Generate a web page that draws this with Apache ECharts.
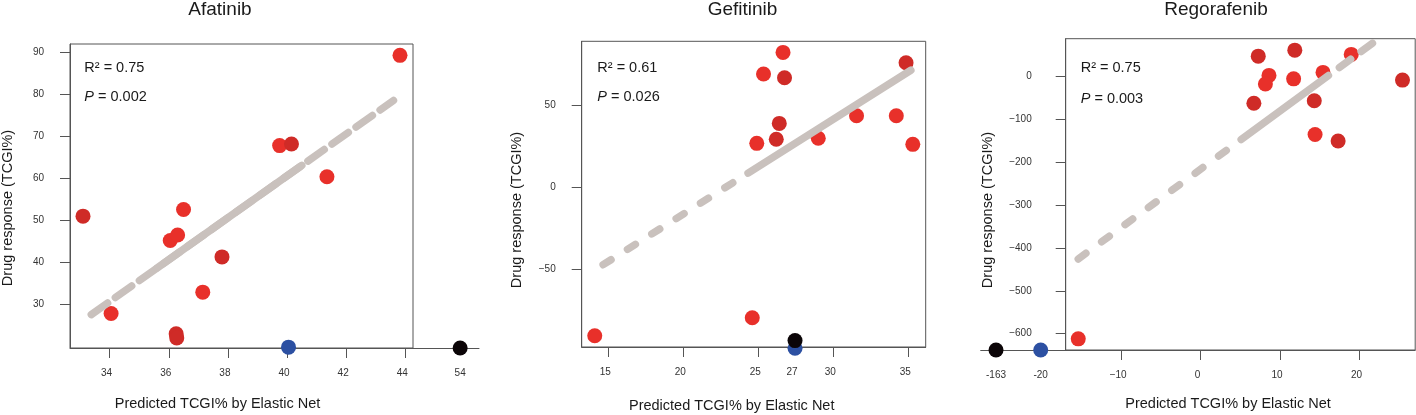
<!DOCTYPE html>
<html><head><meta charset="utf-8">
<script src="https://cdn.jsdelivr.net/npm/echarts@6/dist/echarts.min.js"></script>
<style>html,body{margin:0;padding:0;background:#fff}#c{width:1416px;height:415px}</style>
</head><body><div id="c"></div>
<script>
const FONT = '"Liberation Sans", Arial, Helvetica, sans-serif';

// ---------- Afatinib ----------
const afatinibRed  = [[43.82,89.3],[39.75,67.8],[41.35,60.4],[36.5,52.6],[36.05,45.2],[36.3,46.5],[37.15,32.9],[34.05,27.8]];
const afatinibDark = [[40.15,68.2],[33.1,51.0],[37.8,41.3],[36.25,23.0],[36.27,22.0]];
const afatinibBlue  = [[40.05,19.8]];
const afatinibBlack = [[54,19.6]];
const afatinibFitDashed = [[33.38,27.55],[43.6,78.55]];
const afatinibFitSolid  = [[35.6,38.63],[40.5,63.08]];
const afatinibXTicks = [34,36,38,40,42,44];
const afatinibYTicks = [30,40,50,60,70,80,90];
const afatinibBreakTicks = [54];
const afatinibStats = ['0.75','0.002'];

// ---------- Gefitinib ----------
const gefitinibRed  = [[26.65,82.6],[25.35,69.4],[31.55,43.9],[34.2,43.9],[35.3,26.4],[24.9,27.0],[29.0,30.1],[24.6,-79.6],[14.1,-90.6]];
const gefitinibDark = [[26.75,67.1],[34.85,76.3],[26.4,39.2],[26.2,29.5]];
const gefitinibBlue  = [[27.45,-98.3]];
const gefitinibBlack = [[27.45,-93.6]];
const gefitinibFitDashed = [[14.66,-47.18],[24.32,8.8]];
const gefitinibFitSolid  = [[24.32,8.8],[35.17,71.68]];
const gefitinibXTicks = [15,20,25,30,35];
const gefitinibXLabels = [15,20,25,27.45,30,35];
const gefitinibYTicks = [-50,0,50];
const gefitinibStats = ['0.61','0.026'];

// ---------- Regorafenib ----------
const regorafenibRed  = [[18.95,52],[8.6,3],[8.15,-17],[11.7,-5],[15.4,10],[14.4,-135],[-15.4,-612]];
const regorafenibDark = [[7.25,48],[11.85,62],[25.4,-8],[6.7,-62],[14.3,-56],[17.3,-150]];
const regorafenibBlue  = [[-20,-638]];
const regorafenibBlack = [[-163,-638]];
const regorafenibFitDashedA = [[-15.4,-425.4],[5.1,-146.6]];
const regorafenibFitSolid   = [[5.1,-146.6],[16.08,2.7]];
const regorafenibFitDashedB = [[17.46,21.5],[21.72,79.4]];
const regorafenibXTicks = [-10,0,10,20];
const regorafenibYTicks = [-600,-500,-400,-300,-200,-100,0];
const regorafenibBreakTicks = [-163,-20];
const regorafenibStats = ['0.75','0.003'];

const RED = '#e8302a', DARK = '#cf2b27', BLUE = '#2c50a2', BLACK = '#0b0507', LINE = '#c9c1bd';
const AX = '#555';
const minus = v => String(v).replace('-', '\u2212');

function xAxisCfg(grid, min, max, ticks, labels, fmt, show) {
  return {
    type: 'value', gridIndex: grid, min, max, scale: true,
    splitLine: {show: false},
    axisLine: {show: true, onZero: false, lineStyle: {color: AX, width: 1}},
    axisTick: {show: true, length: 10, customValues: ticks, lineStyle: {color: AX}},
    axisLabel: {show: true, customValues: labels || ticks, margin: 20, fontSize: 10, color: '#333',
      fontFamily: FONT, padding: show === 'break' ? 0 : [0,6,0,0], formatter: fmt || (v => minus(v))}
  };
}
function yAxisCfg(grid, min, max, ticks, margin, hidden) {
  return {
    type: 'value', gridIndex: grid, min, max, scale: true, show: !hidden,
    splitLine: {show: false},
    axisLine: {show: true, onZero: false, lineStyle: {color: AX, width: 1}},
    axisTick: {show: true, length: 10, customValues: ticks || [], lineStyle: {color: AX}},
    axisLabel: {show: true, customValues: ticks || [], margin: margin, fontSize: 10, color: '#333',
      fontFamily: FONT, padding: [0,0,8,0], formatter: v => minus(v)}
  };
}
function scat(name, data, color, xi, yi) {
  return {name, type: 'scatter', xAxisIndex: xi, yAxisIndex: yi, data, symbolSize: 15, clip: false,
    itemStyle: {color, opacity: 1}, z: 2, emphasis: {disabled: true}};
}
function fit(name, data, dash, xi, yi) {
  return {name, type: 'line', xAxisIndex: xi, yAxisIndex: yi, data, showSymbol: false, symbol: 'none', clip: false,
    lineStyle: {color: LINE, width: 7.5, cap: 'round', type: dash}, z: 3, emphasis: {disabled: true}};
}

const gridBox = {show: true, borderColor: AX, borderWidth: 1, backgroundColor: 'transparent'};
const grids = [
  Object.assign({left: 70, top: 44, width: 343, height: 304}, gridBox),
  {left: 413, top: 44, width: 66, height: 304, show: false},
  Object.assign({left: 581.7, top: 41.3, width: 344, height: 305.7}, gridBox),
  Object.assign({left: 1065.7, top: 38.7, width: 349.5, height: 311.3}, gridBox),
  {left: 980.7, top: 38.7, width: 85, height: 311.3, show: false}
];

const xAxes = [
  xAxisCfg(0, 32.66, 44.26, afatinibXTicks),
  xAxisCfg(1, 51.5, 55, [], afatinibBreakTicks, v => String(v), 'break'),
  xAxisCfg(2, 13.23, 36.16, gefitinibXTicks, gefitinibXLabels, v => String(Math.round(v))),
  xAxisCfg(3, -16.98, 27.0, regorafenibXTicks),
  xAxisCfg(4, -212, 60, [], regorafenibBreakTicks, v => String(v), 'break')
];
const yAxes = [
  yAxisCfg(0, 19.6, 92, afatinibYTicks, 26),
  yAxisCfg(1, 19.6, 92, null, 0, true),
  yAxisCfg(2, -97.5, 89.4, gefitinibYTicks, 26),
  yAxisCfg(3, -638, 88.7, regorafenibYTicks, 34),
  yAxisCfg(4, -638, 88.7, null, 0, true)
];

const series = [
  scat('Afatinib', afatinibRed, RED, 0, 0),
  scat('Afatinib', afatinibDark, DARK, 0, 0),
  scat('Afatinib', afatinibBlue, BLUE, 0, 0),
  scat('Afatinib', afatinibBlack, BLACK, 1, 1),
  fit('Afatinib fit', afatinibFitDashed, [20, 9.5], 0, 0),
  fit('Afatinib fit', afatinibFitSolid, 'solid', 0, 0),

  scat('Gefitinib', gefitinibRed, RED, 2, 2),
  scat('Gefitinib', gefitinibDark, DARK, 2, 2),
  scat('Gefitinib', gefitinibBlue, BLUE, 2, 2),
  scat('Gefitinib', gefitinibBlack, BLACK, 2, 2),
  fit('Gefitinib fit', gefitinibFitDashed, [9.3, 19.5], 2, 2),
  fit('Gefitinib fit', gefitinibFitSolid, 'solid', 2, 2),

  scat('Regorafenib', regorafenibRed, RED, 3, 3),
  scat('Regorafenib', regorafenibDark, DARK, 3, 3),
  scat('Regorafenib', regorafenibBlue, BLUE, 4, 4),
  scat('Regorafenib', regorafenibBlack, BLACK, 4, 4),
  fit('Regorafenib fit', regorafenibFitDashedA, [9.5, 19.5], 3, 3),
  fit('Regorafenib fit', regorafenibFitSolid, 'solid', 3, 3),
  fit('Regorafenib fit', regorafenibFitDashedB, [14, 13], 3, 3)
];

function txt(text, x, y, size, opts) {
  return Object.assign({type: 'text', x, y, silent: true, z: 10,
    style: {text, fill: '#1a1a1a', fontSize: size, fontFamily: FONT, align: 'center', verticalAlign: 'middle'}}, opts || {});
}
function stat(x, y1, y2, s) {
  return [
    {type: 'text', x, y: y1, silent: true, z: 10, style: {text: 'R\u00b2 = ' + s[0], fill: '#1a1a1a', fontSize: 14.5, fontFamily: FONT, align: 'left', verticalAlign: 'middle'}},
    {type: 'text', x, y: y2, silent: true, z: 10, style: {text: '{i|P} = ' + s[1], fill: '#1a1a1a', fontSize: 14.5, fontFamily: FONT, align: 'left', verticalAlign: 'middle',
      rich: {i: {fontStyle: 'italic', fontSize: 14.5, fontFamily: FONT, fill: '#1a1a1a'}}}}
  ];
}
const graphics = [
  txt('Afatinib', 220, 10, 19),
  txt('Gefitinib', 742.5, 10, 19),
  txt('Regorafenib', 1216, 10, 19),
  txt('Predicted TCGI% by Elastic Net', 217.5, 404, 14.5),
  txt('Predicted TCGI% by Elastic Net', 731.7, 406, 14.5),
  txt('Predicted TCGI% by Elastic Net', 1228, 404, 14.5),
  txt('Drug response (TCGI%)', 7.5, 208, 14.5, {rotation: Math.PI / 2}),
  txt('Drug response (TCGI%)', 517, 210, 14.5, {rotation: Math.PI / 2}),
  txt('Drug response (TCGI%)', 988, 210, 14.5, {rotation: Math.PI / 2}),
  ...stat(84.3, 67.7, 96.7, afatinibStats),
  ...stat(597.3, 67.7, 96.7, gefitinibStats),
  ...stat(1080.7, 67.7, 98.7, regorafenibStats)
];

const chart = echarts.init(document.getElementById('c'), null, {renderer: 'canvas'});
chart.setOption({
  animation: false,
  backgroundColor: '#fff',
  grid: grids,
  xAxis: xAxes,
  yAxis: yAxes,
  series,
  graphic: graphics
});
</script>
</body></html>
